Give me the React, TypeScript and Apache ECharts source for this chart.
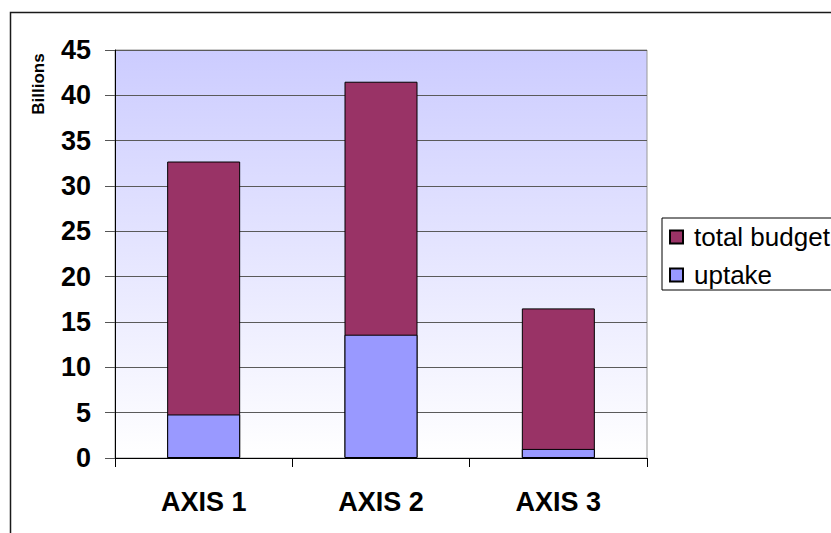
import React, { useEffect, useRef } from "react";
import * as echarts from "echarts";

const categories = ["AXIS 1", "AXIS 2", "AXIS 3"];
const totalBudget = [32.7, 41.5, 16.5];
const uptake = [4.8, 13.6, 1.0];
const seriesNames = ["total budget", "uptake"];
const axisTitle = "Billions";

const FONT = '"Liberation Sans", Arial, sans-serif';

export default function App() {
  const ref = useRef<HTMLDivElement>(null);

  useEffect(() => {
    if (!ref.current) return;
    const chart = echarts.init(ref.current, null, { renderer: "svg" });
    chart.setOption({
      animation: false,
      backgroundColor: "#ffffff",
      textStyle: { fontFamily: FONT },
      graphic: [
        {
          type: "rect",
          shape: { x: 10.5, y: 12.5, width: 1000, height: 1000 },
          style: { fill: "none", stroke: "#1a1a1a", lineWidth: 1.5 },
          silent: true,
          z: 100,
        },
        {
          type: "text",
          x: 38,
          y: 84,
          rotation: Math.PI / 2,
          style: {
            text: axisTitle,
            font: `bold 17px ${FONT}`,
            fill: "#000",
            textAlign: "center",
            textVerticalAlign: "middle",
          },
        },
      ],
      grid: {
        left: 115,
        right: 184,
        top: 50,
        bottom: 75,
        show: true,
        borderColor: "#999999",
        borderWidth: 1,
        backgroundColor: new echarts.graphic.LinearGradient(0, 0, 0, 1, [
          { offset: 0, color: "#CCCCFF" },
          { offset: 1, color: "#FFFFFF" },
        ]),
      },
      legend: {
        orient: "vertical",
        left: 662,
        top: 218,
        padding: [6, 2, 2, 7],
        itemGap: 12,
        itemWidth: 13,
        itemHeight: 13,
        icon: "rect",
        borderColor: "#000",
        borderWidth: 1,
        textStyle: {
          fontFamily: FONT,
          fontSize: 26,
          color: "#000",
          padding: [0, 0, 0, 6],
        },
        data: seriesNames,
      },
      xAxis: {
        type: "category",
        data: categories,
        axisLine: { lineStyle: { color: "#000", width: 1 } },
        axisTick: { show: true, length: 9, lineStyle: { color: "#000" } },
        axisLabel: {
          margin: 30,
          fontSize: 27,
          fontWeight: "bold",
          color: "#000",
          fontFamily: FONT,
        },
        splitLine: { show: false },
      },
      yAxis: {
        type: "value",
        min: 0,
        max: 45,
        interval: 5,
        axisLine: { show: true, lineStyle: { color: "#000", width: 1 } },
        axisTick: { show: true, length: 10, lineStyle: { color: "#555" } },
        axisLabel: {
          margin: 24,
          fontSize: 27,
          fontWeight: "bold",
          color: "#000",
          fontFamily: FONT,
        },
        splitLine: { show: true, lineStyle: { color: "#5a5a5a", width: 1 } },
      },
      series: [
        {
          name: seriesNames[0],
          type: "bar",
          data: totalBudget,
          barWidth: 73,
          itemStyle: { color: "#993366", borderColor: "#000", borderWidth: 1 },
        },
        {
          name: seriesNames[1],
          type: "bar",
          data: uptake,
          barWidth: 73,
          barGap: "-100%",
          itemStyle: { color: "#9999FF", borderColor: "#000", borderWidth: 1 },
        },
      ],
    });
    return () => chart.dispose();
  }, []);

  return (
    <div
      ref={ref}
      style={{ position: "absolute", left: 0, top: 0, width: 831, height: 533 }}
    />
  );
}
